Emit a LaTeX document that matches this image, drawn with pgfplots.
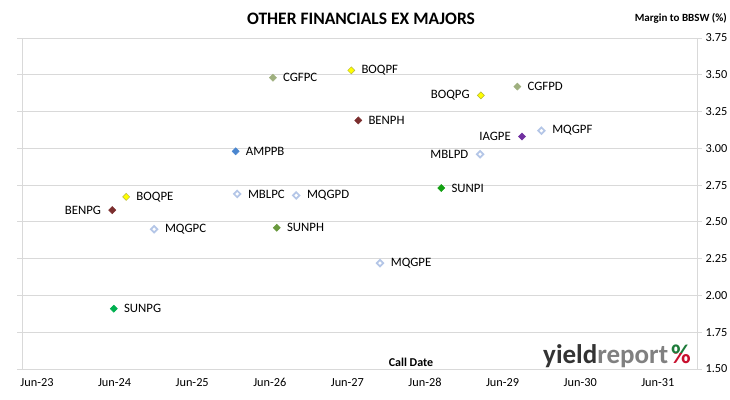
\documentclass[border=0pt]{standalone}
\usepackage{pgfplots}
\pgfplotsset{compat=1.18}
\usepackage{fontspec}
\setmainfont{Carlito}
\definecolor{gridc}{HTML}{D9D9D9}
\definecolor{cSunG}{HTML}{00B050}
\definecolor{cSunI}{HTML}{12A012}
\definecolor{cSunH}{HTML}{6A9A3E}
\definecolor{cBen}{HTML}{7B2E2E}
\definecolor{cBoq}{HTML}{FFFF00}
\definecolor{cBoqE}{HTML}{B4B43C}
\definecolor{cMqg}{HTML}{B4C6E7}
\definecolor{cAmp}{HTML}{4A86CF}
\definecolor{cCgf}{HTML}{9FB07F}
\definecolor{cIag}{HTML}{7030A0}
\definecolor{logodark}{HTML}{333333}
\definecolor{logogray}{HTML}{808080}
\definecolor{logogreen}{HTML}{1E7B3A}
\definecolor{logored}{HTML}{C8102E}
\pgfplotsset{
  labR/.style={only marks, mark=square*, mark size=2.5pt,
    nodes near coords, point meta=explicit symbolic,
    every node near coord/.append style={anchor=west, xshift=9pt, inner sep=1pt,
      font=\fontsize{12.8}{13}\selectfont, text=black}},
  labL/.style={only marks, mark=square*, mark size=2.5pt,
    nodes near coords, point meta=explicit symbolic,
    every node near coord/.append style={anchor=east, xshift=-10pt, inner sep=1pt,
      font=\fontsize{12.8}{13}\selectfont, text=black}},
  mk/.style 2 args={mark options={rotate=45, line width=0.5pt, draw=#1, fill=#2}},
  hollow/.style={mark options={rotate=45, draw=cMqg, fill=white, line width=1.7pt}, mark size=2.3pt},
}
\begin{document}
\begin{tikzpicture}
\path[use as bounding box, fill=white] (0pt,0pt) rectangle (730pt,399pt);
\begin{axis}[
  at={(22pt,30pt)}, anchor=south west, scale only axis,
  width=675pt, height=331pt,
  xmin=2023.307, xmax=2032.005, ymin=1.5, ymax=3.75,
  xtick={2023.5,2024.5,2025.5,2026.5,2027.5,2028.5,2029.5,2030.5,2031.5},
  xticklabels={Jun-23,Jun-24,Jun-25,Jun-26,Jun-27,Jun-28,Jun-29,Jun-30,Jun-31},
  ytick={1.5,1.75,2,2.25,2.5,2.75,3,3.25,3.5,3.75},
  yticklabel pos=right,
  ymajorgrids, grid style={gridc, line width=0.8pt},
  axis line style={gridc, line width=0.8pt},
  xtick style={draw=none},
  ytick style={gridc, line width=0.8pt},
  ytick align=outside, major tick length=5pt,
  tick label style={font=\fontsize{12.3}{12}\selectfont, text=black},
  yticklabel style={/pgf/number format/.cd, fixed, fixed zerofill, precision=2, assume math mode=true},
  xticklabel style={yshift=-6pt},
  clip=false,
]
% SUN
\addplot[labR, mk={cSunG}{cSunG}] coordinates {(2024.49,1.91) [SUNPG]};
\addplot[labR, mk={cSunH}{cSunH}] coordinates {(2026.59,2.46) [SUNPH]};
\addplot[labR, mk={cSunI}{cSunI}] coordinates {(2028.71,2.73) [SUNPI]};
% BEN
\addplot[labL, mk={cBen}{cBen}] coordinates {(2024.47,2.58) [BENPG]};
\addplot[labR, mk={cBen}{cBen}] coordinates {(2027.64,3.19) [BENPH]};
% BOQ
\addplot[labR, mk={cBoqE}{cBoq}] coordinates {(2024.65,2.67) [BOQPE] (2027.55,3.53) [BOQPF]};
\addplot[labL, mk={cBoqE}{cBoq}] coordinates {(2029.22,3.36) [BOQPG]};
% MQG / MBL
\addplot[labR, hollow] coordinates {(2025.01,2.45) [MQGPC] (2026.08,2.69) [MBLPC] (2026.84,2.68) [MQGPD] (2027.92,2.22) [MQGPE] (2030.00,3.12) [MQGPF]};
\addplot[labL, hollow] coordinates {(2029.21,2.96) [MBLPD]};
% AMP
\addplot[labR, mk={cAmp}{cAmp}] coordinates {(2026.06,2.98) [AMPPB]};
% CGF
\addplot[labR, mk={cCgf}{cCgf}] coordinates {(2026.54,3.48) [CGFPC] (2029.69,3.42) [CGFPD]};
% IAG
\addplot[labL, mk={cIag}{cIag}] coordinates {(2029.75,3.08) [IAGPE]};
\end{axis}
% title and labels
\node[font=\fontsize{17.5}{18}\selectfont\bfseries] at (361pt,380pt) {OTHER FINANCIALS EX MAJORS};
\node[anchor=east, font=\fontsize{11}{11}\selectfont\bfseries, inner sep=0pt] at (727pt,381pt) {Margin to BBSW (\%)};
\node[font=\fontsize{12}{12}\selectfont\bfseries] at (411pt,37pt) {Call Date};
% logo
\node[anchor=base west, inner sep=0pt, font=\fontsize{27}{27}\selectfont\bfseries] at (543pt,36pt) {\textcolor{logodark}{yield}\textcolor{logogray}{report}};
\begin{scope}
\clip (660pt,46pt) rectangle (700pt,70pt);
\node[anchor=base west, inner sep=0pt, font=\fontsize{27}{27}\selectfont\bfseries, text=logogreen] at (671pt,36pt) {\%};
\end{scope}
\begin{scope}
\clip (660pt,20pt) rectangle (700pt,46pt);
\node[anchor=base west, inner sep=0pt, font=\fontsize{27}{27}\selectfont\bfseries, text=logored] at (671pt,36pt) {\%};
\end{scope}
\end{tikzpicture}
\end{document}
